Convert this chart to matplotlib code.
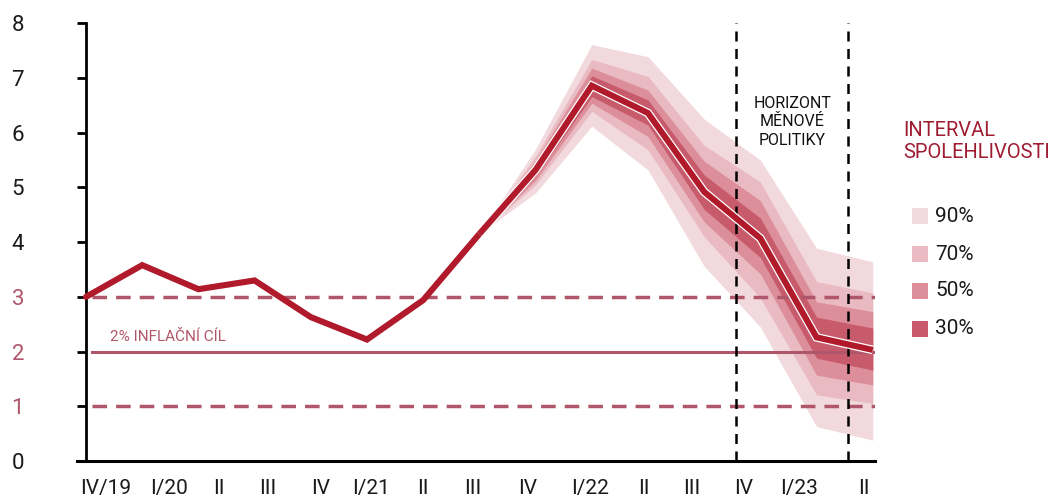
import matplotlib
matplotlib.use("Agg")
import matplotlib.pyplot as plt
import matplotlib.patheffects as pe
from matplotlib.patches import Rectangle
import numpy as np

plt.rcParams['font.family'] = ['Roboto', 'DejaVu Sans']

# ---------------- data ----------------
quarters = ["IV/19", "I/20", "II", "III", "IV", "I/21", "II", "III", "IV",
            "I/22", "II", "III", "IV", "I/23", "II"]
inflation = [3.00, 3.58, 3.14, 3.30, 2.63, 2.22, 2.94, 4.15, 5.32,
             6.86, 6.36, 4.92, 4.07, 2.26, 2.03]
band_start = 7  # index of III/21, where the fan chart begins
lo90 = [4.15, 4.90, 6.12, 5.32, 3.56, 2.45, 0.63, 0.38]
hi90 = [4.15, 5.70, 7.61, 7.39, 6.25, 5.50, 3.89, 3.64]
lo70 = [4.15, 5.05, 6.39, 5.69, 4.10, 2.98, 1.21, 1.05]
hi70 = [4.15, 5.57, 7.34, 7.03, 5.77, 5.10, 3.28, 3.07]
lo50 = [4.15, 5.13, 6.54, 5.93, 4.37, 3.42, 1.57, 1.39]
hi50 = [4.15, 5.49, 7.18, 6.78, 5.48, 4.76, 2.91, 2.73]
lo30 = [4.15, 5.21, 6.66, 6.14, 4.60, 3.72, 1.88, 1.66]
hi30 = [4.15, 5.42, 7.04, 6.60, 5.23, 4.44, 2.63, 2.43]
target = 2.0
tolerance = [1.0, 3.0]
y_ticks = [0, 1, 2, 3, 4, 5, 6, 7, 8]
legend_labels = ["90%", "70%", "50%", "30%"]

# ---------------- styling / layout ----------------
W, H = 1054, 497
LINE_C = "#b01a2b"
ROSE = "#b0566a"
band_colors = ["#f2d9dd", "#e9bac2", "#dc8f9b", "#c85b6b"]
TITLE_C = "#9e1b32"

# label positions (layout only) in category units
label_pos = [0.35, 1.47, 2.37, 3.24, 4.18, 5.07, 6.0, 6.89, 7.85,
             8.97, 9.93, 10.78, 11.71, 12.69, 13.84]
horizon_lines = [11.57, 13.56]

fig = plt.figure(figsize=(W / 100, H / 100), dpi=100)
ax = fig.add_axes([77 / W, (H - 461) / H, (875 - 77) / W, (461 - 23.3) / H])

x = np.arange(len(inflation))
xb = x[band_start:]

ax.set_xlim(-0.16, 14.04)
ax.set_ylim(0, 8)

# fan chart
for (lo, hi), c in zip([(lo90, hi90), (lo70, hi70), (lo50, hi50), (lo30, hi30)], band_colors):
    ax.fill_between(xb, lo, hi, color=c, linewidth=0, zorder=2)

# tolerance band and target
for t in tolerance:
    ax.axhline(t, xmin=(0.1 + 0.16) / 14.2, xmax=1, color=ROSE, lw=2.5,
               dashes=(4.2, 2.6), zorder=3)
ax.axhline(target, xmin=(0.1 + 0.16) / 14.2, xmax=1, color=ROSE, lw=2.2, zorder=3)
ax.text(0.42, target + 0.13, "2% INFLAČNÍ CÍL", color=ROSE, fontsize=11,
        ha="left", va="bottom", zorder=4)

# horizon lines
for hx in horizon_lines:
    ax.axvline(hx, color="black", lw=1.8, dashes=(4, 3), zorder=5)
ax.text(sum(horizon_lines) / 2, 6.2, "HORIZONT\nMĚNOVÉ\nPOLITIKY", ha="center",
        va="center", fontsize=11.5, linespacing=1.3, color="#111111", zorder=6)

# main line
ax.plot(x[:band_start + 1], inflation[:band_start + 1], color=LINE_C, lw=4.4,
        solid_joinstyle="miter", solid_capstyle="round", zorder=6)
ax.plot(xb, inflation[band_start:], color=LINE_C, lw=4.4, solid_joinstyle="miter",
        solid_capstyle="butt", zorder=7,
        path_effects=[pe.Stroke(linewidth=6.2, foreground="white"), pe.Normal()])

# axes styling
for s in ["top", "right"]:
    ax.spines[s].set_visible(False)
ax.spines["left"].set_position(("data", 0))
ax.spines["left"].set_linewidth(2)
ax.spines["bottom"].set_linewidth(2.2)
ax.set_yticks(y_ticks)
ax.set_yticklabels([str(v) for v in y_ticks])
ax.tick_params(axis="y", length=6.5, width=2, pad=38, labelsize=16, labelcolor="#1a1a1a")
for lbl, v in zip(ax.get_yticklabels(), y_ticks):
    if v in (1, 2, 3):
        lbl.set_color(ROSE)
ax.set_xticks(label_pos)
ax.set_xticklabels(quarters)
ax.tick_params(axis="x", length=0, pad=13, labelsize=15, labelcolor="#1a1a1a")

# legend (manual)
fig.text(903 / W, 1 - 121 / H, "INTERVAL\nSPOLEHLIVOSTI", color=TITLE_C, fontsize=14.5,
         ha="left", va="top", linespacing=1.2)
rows_y = [216, 254, 291, 329]
for yy, c, lab in zip(rows_y, band_colors, legend_labels):
    fig.patches.append(Rectangle((912 / W, 1 - (yy + 8) / H), 16 / W, 16 / H,
                                 transform=fig.transFigure, color=c, lw=0))
    fig.text(935 / W, 1 - yy / H, lab, fontsize=15, ha="left", va="center", color="#1a1a1a")

fig.savefig("out.png", dpi=100)
